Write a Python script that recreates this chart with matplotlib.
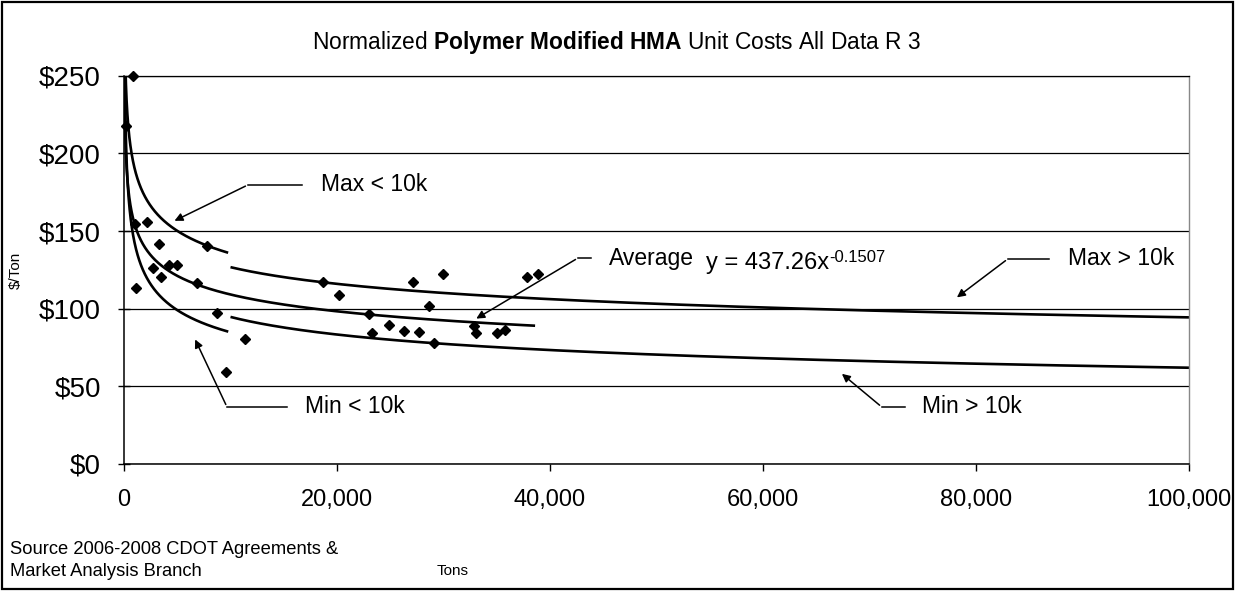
import matplotlib
matplotlib.use("Agg")
import matplotlib.pyplot as plt
import numpy as np
from matplotlib.patches import Rectangle
from matplotlib.ticker import FuncFormatter

plt.rcParams['font.family'] = ['Liberation Sans', 'DejaVu Sans']
plt.rcParams['mathtext.fontset'] = 'custom'
plt.rcParams['mathtext.rm'] = 'Liberation Sans'
plt.rcParams['mathtext.bf'] = 'Liberation Sans:bold'
plt.rcParams['mathtext.it'] = 'Liberation Sans:italic'

# bid items: tons vs normalized $/ton
tons = [850, 150, 1040, 2170, 3300, 7830, 1130, 2740, 3490, 4250, 5000, 6890,
        8770, 11320, 9620, 18680, 20190, 23020, 23300, 24880, 26290, 27670,
        27140, 28680, 29090, 29970, 32890, 33050, 35030, 35790, 37830, 38840]
cost = [250, 217.6, 154.5, 155.8, 141.7, 140.4, 113.3, 126.2, 120.4, 128.1,
        128.1, 116.5, 97.2, 80.5, 59.2, 117.2, 108.8, 96.6, 84.4, 89.5, 85.6,
        84.8, 117.4, 101.9, 78.1, 122.1, 89.1, 84.5, 84.5, 86.3, 120.4, 122.1]

# power trendlines y = a * x^b
trend_names = ['Max < 10k', 'Average', 'Min < 10k', 'Max > 10k', 'Min > 10k']
trend_a = [525.0, 437.26, 670.5, 411.6, 515.6]
trend_b = [-0.147, -0.1507, -0.2245, -0.1279, -0.184]
trend_from = [20, 20, 20, 10000, 10000]
trend_to = [9780, 38600, 9790, 100000, 100000]

x_ticks = [0, 20000, 40000, 60000, 80000, 100000]
y_ticks = [0, 50, 100, 150, 200, 250]

fig = plt.figure(figsize=(12.35, 5.91), dpi=100)
ax = fig.add_axes([124/1235, 1-464/591, 1065/1235, (464-75.7)/591])

for a, b, x0, x1 in zip(trend_a, trend_b, trend_from, trend_to):
    xs = np.geomspace(x0, x1, 500)
    ax.plot(xs, a*xs**b, color='black', lw=1.9, solid_capstyle='butt')

ax.plot(tons, cost, linestyle='none', marker='D', markersize=5.6,
        color='black', clip_on=False, zorder=5)

ax.set_xlim(0, 100000)
ax.set_ylim(0, 250)
ax.set_xticks(x_ticks)
ax.set_yticks(y_ticks)
ax.xaxis.set_major_formatter(FuncFormatter(lambda v, p: '{:,}'.format(int(v))))
ax.yaxis.set_major_formatter(FuncFormatter(lambda v, p: '${:d}'.format(int(v))))
ax.tick_params(axis='y', direction='inout', length=9, width=1, labelsize=20, pad=12)
ax.tick_params(axis='x', direction='out', length=5, width=1, labelsize=17, pad=13)
ax.grid(axis='y', color='black', lw=0.9)
ax.set_axisbelow(True)
for s in ['left', 'bottom']:
    ax.spines[s].set_linewidth(1.1)
ax.spines['top'].set_linewidth(0.9)
ax.spines['right'].set_color('#888888')
ax.spines['right'].set_linewidth(1.0)

# callouts
arrow_kw = dict(arrowstyle='-|>', color='black', lw=1.1, mutation_scale=12)
callouts = [
    ('Max < 10k', (4506, 155.8), (11640, 179.7), 16710, 18490),
    ('Average', (32855, 92.7), (42620, 132.6), 43840, 45530),
    ('Max > 10k', (78000, 106.2), (82980, 132.0), 86830, 88610),
    ('Min > 10k', (67210, 59.2), (71150, 36.7), 73310, 74910),
    ('Min < 10k', (6570, 81.8), (9670, 36.7), 15300, 16990),
]
for label, tip, corner, x_end, x_text in callouts:
    ax.plot([corner[0], x_end], [corner[1], corner[1]], color='black', lw=1.1)
    ax.annotate('', xy=tip, xytext=corner, arrowprops=arrow_kw)
    ax.text(x_text, corner[1], label, fontsize=16.5, va='center', ha='left')

# trendline equation, superscript drawn right after the base text
eq = ax.text(54630, 129.4, 'y = 437.26x', fontsize=17, va='center', ha='left')
fig.canvas.draw()
bb = eq.get_window_extent()
ax.annotate('-0.1507', xy=(bb.x1, bb.y1), xycoords='figure pixels',
            xytext=(0, -4), textcoords='offset points',
            fontsize=12, ha='left', va='center')

fig.text(0.499, 1-43/591, r'Normalized $\bf{Polymer\ Modified\ HMA}$ Unit Costs All Data R 3',
         fontsize=16.4, ha='center', va='center')
fig.text(16/1235, 1-270/591, '$/Ton', fontsize=11, rotation=90, ha='center', va='center')
fig.text(453/1235, 1-571/591, 'Tons', fontsize=11, ha='center', va='center')
fig.text(10/1235, 1-549/591, 'Source 2006-2008 CDOT Agreements &', fontsize=13.2,
         ha='left', va='center')
fig.text(10/1235, 1-571/591, 'Market Analysis Branch', fontsize=13.2,
         ha='left', va='center')

fig.patches.append(Rectangle((0.002, 0.003), 0.996, 0.994, transform=fig.transFigure,
                             fill=False, edgecolor='black', lw=1.6))

fig.savefig('out.png', dpi=100)
